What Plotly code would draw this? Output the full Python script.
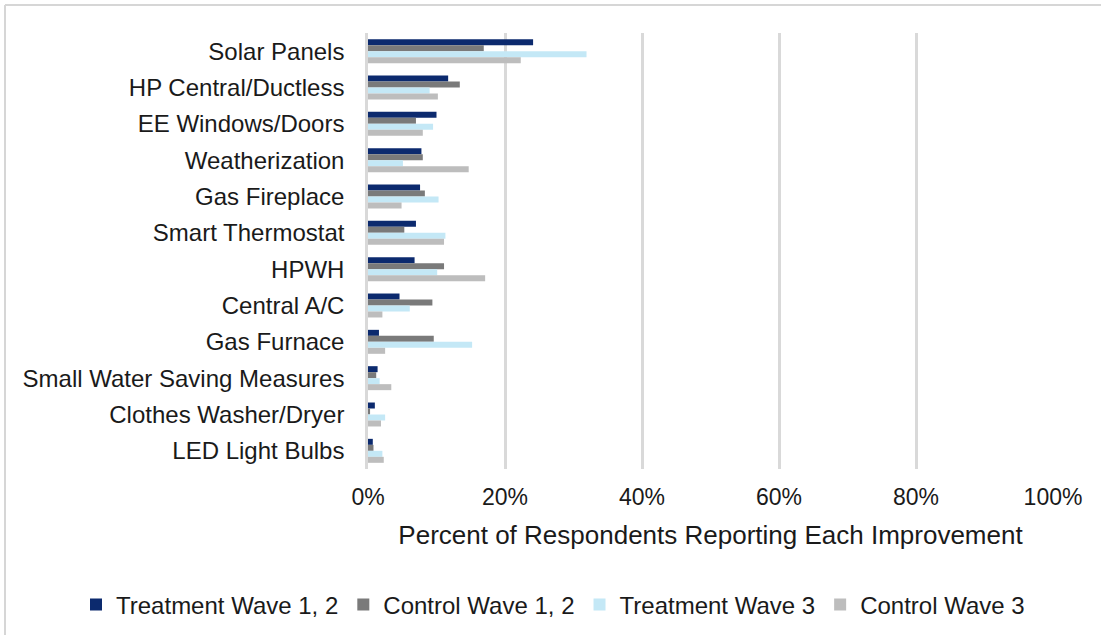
import plotly.graph_objects as go

categories = [
    "Solar Panels", "HP Central/Ductless", "EE Windows/Doors", "Weatherization",
    "Gas Fireplace", "Smart Thermostat", "HPWH", "Central A/C", "Gas Furnace",
    "Small Water Saving Measures", "Clothes Washer/Dryer", "LED Light Bulbs",
]

treatment_w12 = [24.1, 11.7, 10.0, 7.8, 7.6, 7.0, 6.8, 4.6, 1.6, 1.4, 1.0, 0.7]
control_w12 = [16.9, 13.4, 7.0, 8.0, 8.3, 5.3, 11.1, 9.4, 9.6, 1.2, 0.3, 0.8]
treatment_w3 = [31.9, 9.0, 9.5, 5.1, 10.3, 11.3, 10.1, 6.1, 15.2, 1.7, 2.5, 2.1]
control_w3 = [22.3, 10.2, 8.0, 14.7, 4.9, 11.1, 17.1, 2.1, 2.5, 3.4, 1.9, 2.3]

series = [
    ("Treatment Wave 1, 2", treatment_w12, "#0c2a6e"),
    ("Control Wave 1, 2", control_w12, "#7a7a7a"),
    ("Treatment Wave 3", treatment_w3, "#c4e8f6"),
    ("Control Wave 3", control_w3, "#bdbdbd"),
]

fig = go.Figure()
for name, vals, color in series:
    fig.add_trace(go.Bar(
        y=categories, x=[v / 100 for v in vals], name=name, orientation="h",
        marker=dict(color=color, line=dict(width=0)),
    ))

W, H = 1101, 635
L, R, T, B = 368, 48, 33, 166
pw, ph = W - L - R, H - T - B

# frame lines along the top and left edge of the figure
frame_x = -(L - 5) / pw
frame_y = 1 + (T - 5) / ph

fig.update_layout(
    width=W, height=H,
    margin=dict(l=L, r=R, t=T, b=B, autoexpand=False),
    barmode="group", bargap=0.34, bargroupgap=0,
    plot_bgcolor="white", paper_bgcolor="white",
    font=dict(family="Liberation Sans, Arial, sans-serif", size=24, color="#1a1a1a"),
    xaxis=dict(
        range=[0, 1], tickvals=[0, 0.2, 0.4, 0.6, 0.8, 1.0],
        ticktext=["0%", "20%", "40%", "60%", "80%", "100%"],
        showgrid=True, gridcolor="#d9d9d9", gridwidth=2.5, zeroline=False,
        showline=False, ticks="", tickfont=dict(size=23),
        ticklabelstandoff=12,
        title=dict(text="Percent of Respondents Reporting Each Improvement",
                   font=dict(size=26), standoff=16),
        fixedrange=True,
    ),
    yaxis=dict(
        autorange="reversed", showline=True, linecolor="#d9d9d9", linewidth=2.5,
        showgrid=False, ticks="", tickfont=dict(size=24), ticklabelstandoff=16,
        fixedrange=True,
    ),
    legend=dict(
        orientation="h", x=(76 - L) / pw, xanchor="left",
        y=-(605 - (T + ph)) / ph, yanchor="middle",
        font=dict(size=24), traceorder="normal", itemwidth=30,
    ),
    shapes=[
        dict(type="line", xref="paper", yref="paper", x0=frame_x, x1=1 + (R + 5) / pw,
             y0=frame_y, y1=frame_y, line=dict(color="#d6d6d6", width=2)),
        dict(type="line", xref="paper", yref="paper", x0=frame_x, x1=frame_x,
             y0=frame_y, y1=-(B + 5) / ph, line=dict(color="#d6d6d6", width=2)),
    ],
)

fig.write_html("out.html")
